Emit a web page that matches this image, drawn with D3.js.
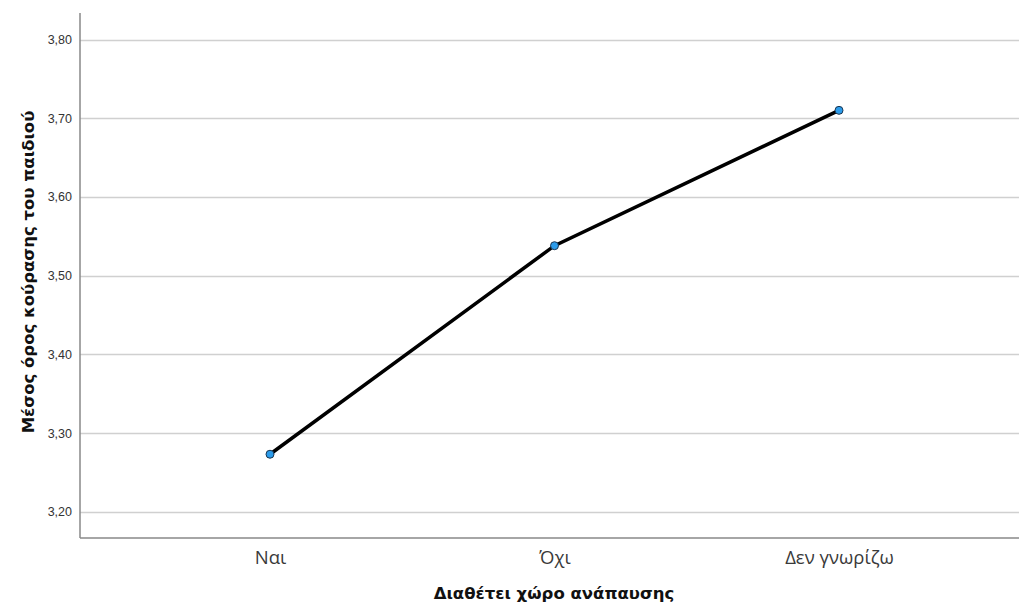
<!DOCTYPE html>
<html><head><meta charset="utf-8">
<script src="https://cdn.jsdelivr.net/npm/d3@7"></script>
<style>body{margin:0;background:#fff}svg{display:block}</style>
</head><body>
<svg id="c" width="1019" height="607"></svg>
<script>
const categories = ["Ναι", "Όχι", "Δεν γνωρίζω"];
const values = [3.273, 3.538, 3.710];
const yTicks = [3.20, 3.30, 3.40, 3.50, 3.60, 3.70, 3.80];
const xTitle = "Διαθέτει χώρο ανάπαυσης";
const yTitle = "Μέσος όρος κούρασης του παιδιού";

(function () {
const svg = d3.select("#c");
const mLeft = 80, mRight = 1019, mTop = 13, mBottom = 538;
const y = d3.scaleLinear().domain([3.20, 3.80]).range([511.7, 39.5]);
const x = d3.scalePoint().domain(categories).range([270, 839]);
const font = "Arial, 'Liberation Sans', sans-serif";
const catFont = "'Open Sans', 'Noto Sans', sans-serif";
const titleFont = "'DejaVu Sans', Verdana, sans-serif";

// gridlines
svg.append("g").selectAll("line").data(yTicks).join("line")
  .attr("x1", mLeft).attr("x2", mRight)
  .attr("y1", d => Math.round(y(d)) + 0.5).attr("y2", d => Math.round(y(d)) + 0.5)
  .attr("stroke", "#d0d0d0").attr("stroke-width", 1.5);

// y axis
const yAxis = svg.append("g").attr("transform", `translate(${mLeft},0)`)
  .call(d3.axisLeft(y).tickValues(yTicks).tickSize(0).tickPadding(8)
    .tickFormat(d => d3.format(".2f")(d).replace(".", ",")));
yAxis.select(".domain").remove();
yAxis.selectAll("text").attr("font-family", font).attr("font-size", 12.5).attr("fill", "#333");
svg.append("line").attr("x1", mLeft).attr("x2", mLeft).attr("y1", mTop).attr("y2", mBottom)
  .attr("stroke", "#888").attr("stroke-width", 1.5);

// x axis
const xAxis = svg.append("g").attr("transform", `translate(0,${mBottom})`)
  .call(d3.axisBottom(x).tickSize(0).tickPadding(0));
xAxis.select(".domain").remove();
xAxis.selectAll("text").attr("dy", null).attr("y", 26)
  .attr("font-family", catFont).attr("font-size", 18.5).attr("fill", "#3a3a3a");
svg.append("line").attr("x1", mLeft).attr("x2", mRight).attr("y1", mBottom).attr("y2", mBottom)
  .attr("stroke", "#888").attr("stroke-width", 1.5);

// line
const data = categories.map((c, i) => ({c, v: values[i]}));
svg.append("path").datum(data)
  .attr("d", d3.line().x(d => x(d.c)).y(d => y(d.v)))
  .attr("fill", "none").attr("stroke", "#000").attr("stroke-width", 3.5);
svg.append("g").selectAll("circle").data(data).join("circle")
  .attr("cx", d => x(d.c)).attr("cy", d => y(d.v)).attr("r", 4)
  .attr("fill", "#2b9bea").attr("stroke", "#1a3550").attr("stroke-width", 1);

// titles
svg.append("text").attr("x", 554).attr("y", 599).attr("text-anchor", "middle")
  .attr("font-family", titleFont).attr("font-weight", "bold").attr("font-size", 16.5).attr("fill", "#111")
  .text(xTitle);
svg.append("text").attr("transform", "translate(34,272) rotate(-90)").attr("text-anchor", "middle")
  .attr("font-family", titleFont).attr("font-weight", "bold").attr("font-size", 16.5).attr("fill", "#111")
  .text(yTitle);
})();
</script>
</body></html>
